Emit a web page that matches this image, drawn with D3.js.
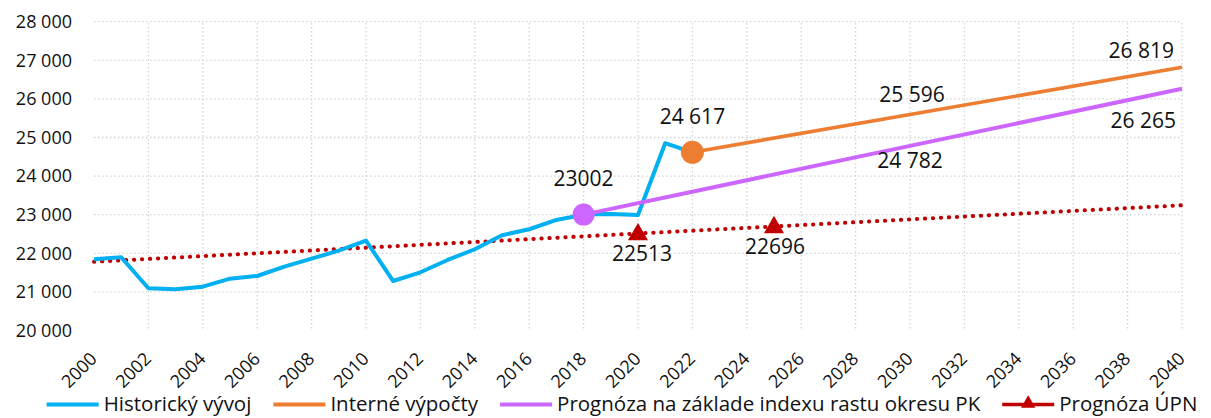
<!DOCTYPE html>
<html>
<head>
<meta charset="utf-8">
<script src="https://cdn.jsdelivr.net/npm/d3@7"></script>
<style>
  html, body { margin: 0; padding: 0; background: #fff; }
  svg { display: block; font-family: 'Open Sans', sans-serif; }
</style>
</head>
<body>
<svg id="chart" width="1211" height="418"></svg>
<script>
// historical population 2000-2022
const histYears = [2000, 2001, 2002, 2003, 2004, 2005, 2006, 2007, 2008, 2009, 2010, 2011,
  2012, 2013, 2014, 2015, 2016, 2017, 2018, 2019, 2020, 2021, 2022];
const histValues = [21845, 21897, 21094, 21068, 21135, 21343, 21412, 21654, 21861, 22068, 22328, 21282,
  21508, 21827, 22105, 22468, 22623, 22864, 23002, 23020, 22994, 24852, 24617];

// internal calculation
const internYears = [2022, 2030, 2040];
const internValues = [24617, 25596, 26819];

// forecast from district PK growth index
const pkYears = [2018, 2030, 2040];
const pkValues = [23002, 24782, 26265];

// ÚPN forecast points
const upnYears = [2020, 2025];
const upnValues = [22513, 22696];

const seriesNames = ['Historický vývoj', 'Interné výpočty', 'Prognóza na základe indexu rastu okresu PK', 'Prognóza ÚPN'];
const seriesColors = ['#00B0F0', '#ED7D31', '#CC66FF', '#C00000'];

const yTicks = [20000, 21000, 22000, 23000, 24000, 25000, 26000, 27000, 28000];
const xTicks = [2000, 2002, 2004, 2006, 2008, 2010, 2012, 2014, 2016, 2018, 2020,
  2022, 2024, 2026, 2028, 2030, 2032, 2034, 2036, 2038, 2040];

const svg = d3.select('#chart');
const x = d3.scaleLinear().domain([2000, 2040]).range([94, 1182]);
const y = d3.scaleLinear().domain([20000, 28000]).range([330.5, 21.7]);

const skLocale = d3.formatLocale({ decimal: ',', thousands: ' ', grouping: [3], currency: ['', ''] });
const fmt = skLocale.format(',');

// gridlines
const grid = svg.append('g').attr('class', 'grid')
  .attr('stroke', '#D3D3D3').attr('stroke-width', 1.3).attr('stroke-dasharray', '1.5 2.5');
grid.selectAll('.hgrid').data(yTicks.filter((d) => d > 20000)).join('line')
  .attr('x1', x(2000)).attr('x2', x(2040))
  .attr('y1', (d) => y(d)).attr('y2', (d) => y(d));
grid.selectAll('.vgrid').data(xTicks.filter((d) => d > 2000)).join('line')
  .attr('x1', (d) => x(d)).attr('x2', (d) => x(d))
  .attr('y1', y(20000) - 2).attr('y2', y(28000));

// y axis labels
svg.append('g').selectAll('text').data(yTicks).join('text')
  .attr('x', 72).attr('y', (d) => y(d)).attr('dy', '0.35em')
  .attr('text-anchor', 'end').attr('font-size', 18).attr('fill', '#111')
  .text((d) => fmt(d));

// x axis labels, rotated
svg.append('g').selectAll('text').data(xTicks).join('text')
  .attr('transform', (d) => `translate(${x(d) + 4},360) rotate(-45)`)
  .attr('text-anchor', 'end').attr('font-size', 18).attr('fill', '#111')
  .text((d) => d);

const line = d3.line().x((d) => x(d[0])).y((d) => y(d[1]));

// linear trendline through the ÚPN points, extended over the whole axis
const meanX = d3.mean(upnYears);
const meanY = d3.mean(upnValues);
const slope = d3.sum(upnYears, (v, i) => (v - meanX) * (upnValues[i] - meanY))
  / d3.sum(upnYears, (v) => (v - meanX) ** 2);
const trend = [2000, 2040].map((yr) => [yr, meanY + slope * (yr - meanX)]);

svg.append('path').datum(trend)
  .attr('d', line).attr('fill', 'none')
  .attr('stroke', seriesColors[3]).attr('stroke-width', 4)
  .attr('stroke-linecap', 'round').attr('stroke-dasharray', '0.3 7.7');

const zip = (xs, vs) => xs.map((v, i) => [v, vs[i]]);

svg.append('path').datum(zip(histYears, histValues))
  .attr('d', line).attr('fill', 'none')
  .attr('stroke', seriesColors[0]).attr('stroke-width', 4).attr('stroke-linejoin', 'round');

svg.append('path').datum(zip(pkYears, pkValues))
  .attr('d', line).attr('fill', 'none')
  .attr('stroke', seriesColors[2]).attr('stroke-width', 4);

svg.append('path').datum(zip(internYears, internValues))
  .attr('d', line).attr('fill', 'none')
  .attr('stroke', seriesColors[1]).attr('stroke-width', 3.6);

// markers
svg.append('circle').attr('cx', x(pkYears[0])).attr('cy', y(pkValues[0])).attr('r', 11)
  .attr('fill', seriesColors[2]);
svg.append('circle').attr('cx', x(internYears[0])).attr('cy', y(internValues[0])).attr('r', 11.5)
  .attr('fill', seriesColors[1]);

const tri = d3.symbol().type(d3.symbolTriangle).size(175);
svg.append('g').selectAll('path').data(zip(upnYears, upnValues)).join('path')
  .attr('transform', (d) => `translate(${x(d[0])},${y(d[1]) + 1})`)
  .attr('d', tri).attr('fill', seriesColors[3]);

// data labels
const labels = [
  { yr: pkYears[0], v: pkValues[0], text: '23002', dx: 0, dy: -36, anchor: 'middle' },
  { yr: pkYears[1], v: pkValues[1], text: fmt(pkValues[1]), dx: 0, dy: 15, anchor: 'middle' },
  { yr: pkYears[2], v: pkValues[2], text: fmt(pkValues[2]), dx: -6, dy: 32, anchor: 'end' },
  { yr: internYears[0], v: internValues[0], text: fmt(internValues[0]), dx: 0, dy: -36, anchor: 'middle' },
  { yr: internYears[1], v: internValues[1], text: fmt(internValues[1]), dx: 2, dy: -20, anchor: 'middle' },
  { yr: internYears[2], v: internValues[2], text: fmt(internValues[2]), dx: -8, dy: -17, anchor: 'end' },
  { yr: upnYears[0], v: upnValues[0], text: '22513', dx: 4, dy: 20, anchor: 'middle' },
  { yr: upnYears[1], v: upnValues[1], text: '22696', dx: 1, dy: 20, anchor: 'middle' },
];
svg.append('g').selectAll('text').data(labels).join('text')
  .attr('x', (d) => x(d.yr) + d.dx).attr('y', (d) => y(d.v) + d.dy)
  .attr('dy', '0.35em').attr('text-anchor', (d) => d.anchor)
  .attr('font-size', 21).attr('fill', '#111')
  .text((d) => d.text);

// legend
const legend = svg.append('g').attr('class', 'legend');
const legY = 403.5;
let cursor = 0;
seriesNames.forEach((name, i) => {
  const item = legend.append('g').attr('transform', `translate(${cursor},0)`);
  item.append('line').attr('x1', 0).attr('x2', 52).attr('y1', legY + 1).attr('y2', legY + 1)
    .attr('stroke', seriesColors[i]).attr('stroke-width', i === 3 ? 3.6 : 4);
  if (i === 3) {
    item.append('path').attr('transform', `translate(26,${legY})`)
      .attr('d', d3.symbol().type(d3.symbolTriangle).size(90)).attr('fill', seriesColors[i]);
  }
  const t = item.append('text').attr('x', 57).attr('y', legY).attr('dy', '0.35em')
    .attr('font-size', 20.5).attr('fill', '#111').text(name);
  cursor += 57 + t.node().getComputedTextLength() + 22;
});
const legWidth = cursor - 22;
legend.attr('transform', `translate(${622 - legWidth / 2},0)`);
</script>
</body>
</html>
